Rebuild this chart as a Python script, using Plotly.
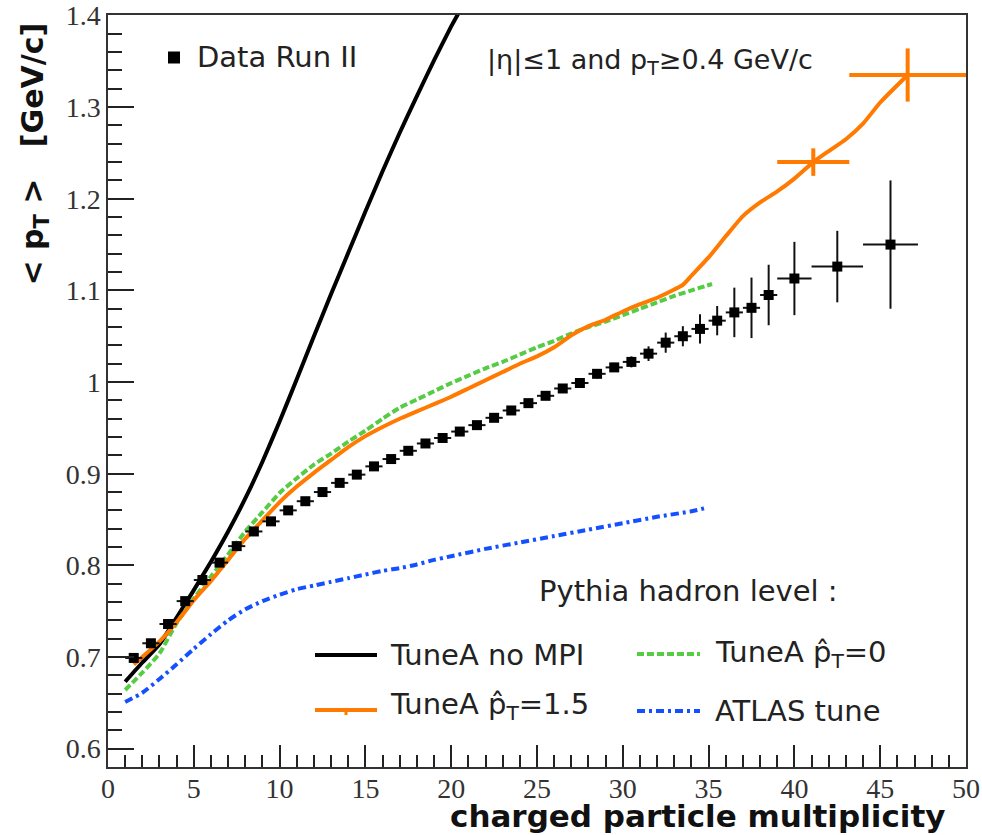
import plotly.graph_objects as go

# ---------------- data ----------------
data_x = [1.5, 2.5, 3.5, 4.5, 5.5, 6.5, 7.5, 8.5, 9.5, 10.5, 11.5, 12.5, 13.5, 14.5,
          15.5, 16.5, 17.5, 18.5, 19.5, 20.5, 21.5, 22.5, 23.5, 24.5, 25.5, 26.5,
          27.5, 28.5, 29.5, 30.5, 31.5, 32.5, 33.5, 34.5, 35.5, 36.5, 37.5, 38.5,
          40.0, 42.5, 45.6]
data_y = [0.699, 0.715, 0.736, 0.761, 0.784, 0.803, 0.821, 0.837, 0.848, 0.860,
          0.870, 0.880, 0.890, 0.899, 0.908, 0.916, 0.925, 0.933, 0.939, 0.946,
          0.953, 0.961, 0.969, 0.977, 0.985, 0.993, 0.999, 1.009, 1.016, 1.022,
          1.031, 1.043, 1.050, 1.058, 1.067, 1.076, 1.081, 1.095, 1.113, 1.126, 1.150]
data_xerr = [0.5] * 38 + [1.0, 1.5, 1.6]
data_yerr = [0.003] * 25 + [0.004, 0.004, 0.005, 0.005, 0.006, 0.008, 0.011,
                            0.011, 0.016, 0.016, 0.027, 0.033, 0.033, 0.040, 0.039, 0.070]

nompi_x = [1, 2, 3, 4, 5, 6, 7, 8, 9, 10, 11, 12, 13, 14, 15, 16, 17, 18, 19, 20, 20.5]
nompi_y = [0.673, 0.694, 0.714, 0.743, 0.773, 0.804, 0.837, 0.873, 0.913, 0.957,
           1.003, 1.050, 1.096, 1.141, 1.186, 1.230, 1.272, 1.312, 1.351, 1.388, 1.405]

tuneA15_x = [1.5, 2, 3, 4, 5, 6, 7, 8, 9, 10, 11, 12, 13, 14, 15, 16, 17, 18, 19, 20,
             21, 22, 23, 24, 25, 26, 27, 28, 29, 30, 31, 32, 33, 33.5, 34, 35, 36, 37,
             38, 39, 40, 41.1, 42, 43, 44, 45, 46.6]
tuneA15_y = [0.692, 0.700, 0.717, 0.738, 0.762, 0.783, 0.806, 0.829, 0.849, 0.869,
             0.886, 0.901, 0.915, 0.929, 0.941, 0.951, 0.960, 0.968, 0.976, 0.984,
             0.993, 1.002, 1.011, 1.020, 1.028, 1.038, 1.051, 1.061, 1.068, 1.077,
             1.085, 1.092, 1.101, 1.106, 1.116, 1.136, 1.159, 1.181, 1.196, 1.208,
             1.222, 1.240, 1.252, 1.265, 1.282, 1.305, 1.335]
tuneA15_err_x = [41.1, 46.6]
tuneA15_err_y = [1.240, 1.335]
tuneA15_err_dx = [2.1, 3.4]
tuneA15_err_dy = [0.015, 0.029]

tuneA0_x = [1, 2, 3, 4, 5, 6, 7, 8, 9, 10, 11, 12, 13, 14, 15, 16, 17, 18, 19, 20,
            21, 22, 23, 24, 25, 26, 27, 28, 29, 30, 31, 32, 33, 34, 35.2]
tuneA0_y = [0.664, 0.683, 0.704, 0.737, 0.764, 0.788, 0.812, 0.837, 0.858, 0.879,
            0.895, 0.910, 0.922, 0.935, 0.947, 0.960, 0.972, 0.981, 0.990, 0.999,
            1.007, 1.015, 1.022, 1.030, 1.038, 1.045, 1.053, 1.060, 1.066, 1.073,
            1.080, 1.087, 1.094, 1.100, 1.107]

atlas_x = [1, 2, 3, 4, 5, 6, 7, 8, 9, 10, 11, 12, 13, 14, 15, 16, 17, 18, 19, 20,
           22, 24, 26, 28, 30, 32, 34, 34.9]
atlas_y = [0.651, 0.661, 0.676, 0.692, 0.709, 0.725, 0.740, 0.752, 0.761, 0.768,
           0.774, 0.778, 0.782, 0.786, 0.790, 0.794, 0.797, 0.801, 0.806, 0.810,
           0.818, 0.825, 0.832, 0.839, 0.846, 0.853, 0.859, 0.863]

x_tickvals = [0, 5, 10, 15, 20, 25, 30, 35, 40, 45, 50]
x_ticktext = ["0", "5", "10", "15", "20", "25", "30", "35", "40", "45", "50"]
y_tickvals = [0.6, 0.7, 0.8, 0.9, 1.0, 1.1, 1.2, 1.3, 1.4]
y_ticktext = ["0.6", "0.7", "0.8", "0.9", "1", "1.1", "1.2", "1.3", "1.4"]

legend_labels = ["TuneA no MPI", "TuneA p\u0302<sub>T</sub>=1.5",
                 "TuneA p\u0302<sub>T</sub>=0", "ATLAS tune"]

# ---------------- styles ----------------
BLACK = "#000000"
ORANGE = "#FF7A00"
GREEN = "#55CC44"
BLUE = "#1450FF"
SANS = "DejaVu Sans, Liberation Sans, Arial, sans-serif"
SERIF = "Liberation Serif, Times New Roman, serif"
TXT = 29

W, H = 982, 835
L, R, T, B = 108, 966, 15, 767


def px(xp):
    return (xp - L) / (R - L)


def py(yp):
    return (B - yp) / (B - T)


fig = go.Figure()

fig.add_trace(go.Scatter(x=nompi_x, y=nompi_y, mode="lines",
                         line=dict(color=BLACK, width=4, shape="spline", smoothing=0.5),
                         name=legend_labels[0]))
fig.add_trace(go.Scatter(x=tuneA0_x, y=tuneA0_y, mode="lines",
                         line=dict(color=GREEN, width=4, dash="7px,3px", shape="spline", smoothing=0.6),
                         name=legend_labels[2]))
fig.add_trace(go.Scatter(x=atlas_x, y=atlas_y, mode="lines",
                         line=dict(color=BLUE, width=4, dash="8px,4px,3px,4px", shape="spline", smoothing=0.6),
                         name=legend_labels[3]))
fig.add_trace(go.Scatter(x=tuneA15_x, y=tuneA15_y, mode="lines",
                         line=dict(color=ORANGE, width=4, shape="spline", smoothing=0.5),
                         name=legend_labels[1]))
fig.add_trace(go.Scatter(x=tuneA15_err_x, y=tuneA15_err_y, mode="markers",
                         marker=dict(size=1, color=ORANGE, opacity=0),
                         error_x=dict(type="data", array=tuneA15_err_dx, color=ORANGE, thickness=4, width=0),
                         error_y=dict(type="data", array=tuneA15_err_dy, color=ORANGE, thickness=4, width=0),
                         showlegend=False))
fig.add_trace(go.Scatter(x=data_x, y=data_y, mode="markers",
                         marker=dict(symbol="square", size=10, color=BLACK),
                         error_x=dict(type="data", array=data_xerr, color="#111", thickness=2, width=0),
                         error_y=dict(type="data", array=data_yerr, color="#111", thickness=2, width=0),
                         name="Data Run II"))

shapes = []
annotations = []

# Data Run II marker + text
shapes.append(dict(type="rect", xref="paper", yref="paper",
                   x0=px(168), x1=px(180), y0=py(63.5), y1=py(51.5),
                   fillcolor=BLACK, line=dict(width=0)))
annotations.append(dict(text="Data Run II", x=px(195), y=py(57.5), xref="paper", yref="paper",
                        xanchor="left", yanchor="middle", showarrow=False,
                        font=dict(family=SANS, size=TXT, color="#222")))
annotations.append(dict(text="|\u03b7|\u22641 and p<sub>T</sub>\u22650.4 GeV/c", x=px(485), y=py(42),
                        xref="paper", yref="paper", xanchor="left", yanchor="top", showarrow=False,
                        font=dict(family=SANS, size=27, color="#222")))
annotations.append(dict(text="Pythia hadron level :", x=px(537), y=py(591), xref="paper", yref="paper",
                        xanchor="left", yanchor="middle", showarrow=False,
                        font=dict(family=SANS, size=TXT, color="#222")))

# legend samples
shapes.append(dict(type="line", xref="paper", yref="paper", x0=px(315), x1=px(377), y0=py(655), y1=py(655),
                   line=dict(color=BLACK, width=4)))
shapes.append(dict(type="line", xref="paper", yref="paper", x0=px(315), x1=px(377), y0=py(710), y1=py(710),
                   line=dict(color=ORANGE, width=4)))
shapes.append(dict(type="line", xref="paper", yref="paper", x0=px(346), x1=px(346), y0=py(710), y1=py(715),
                   line=dict(color=ORANGE, width=3)))
shapes.append(dict(type="line", xref="paper", yref="paper", x0=px(637), x1=px(700), y0=py(654), y1=py(654),
                   line=dict(color=GREEN, width=4, dash="7px,3px")))
shapes.append(dict(type="line", xref="paper", yref="paper", x0=px(637), x1=px(700), y0=py(711), y1=py(711),
                   line=dict(color=BLUE, width=4, dash="8px,4px,3px,4px")))

leg_pos = [(388, 655, "middle"), (388, 685, "top"), (713, 633, "top"), (713, 711, "middle")]
for lab, (lx, ly, anc) in zip(legend_labels, leg_pos):
    annotations.append(dict(text=lab, x=px(lx), y=py(ly), xref="paper", yref="paper",
                            xanchor="left", yanchor=anc, showarrow=False,
                            font=dict(family=SANS, size=TXT, color="#222")))

# axis titles
annotations.append(dict(text="<b>charged particle multiplicity</b>", x=px(947), y=py(816),
                        xref="paper", yref="paper", xanchor="right", yanchor="middle", showarrow=False,
                        font=dict(family=SANS, size=31, color="#111")))
annotations.append(dict(text="<b>&lt; p<sub>T</sub> &gt;   [GeV/c]</b>", x=px(34), y=py(21),
                        xref="paper", yref="paper", xanchor="center", yanchor="top", showarrow=False,
                        textangle=-90, font=dict(family=SANS, size=30, color="#111")))

fig.update_layout(
    width=W, height=H,
    margin=dict(l=L, r=W - R, t=T, b=H - B, autoexpand=False),
    paper_bgcolor="white", plot_bgcolor="white",
    showlegend=False,
    shapes=shapes, annotations=annotations,
)
fig.update_xaxes(range=[0, 50], showgrid=False, zeroline=False, automargin=False,
                 showline=True, linecolor="#333", linewidth=1.5, mirror=True,
                 ticks="inside", ticklen=22, tickwidth=1.5, tickcolor="#222",
                 tickvals=x_tickvals, ticktext=x_ticktext, ticklabelstandoff=-4,
                 tickfont=dict(family=SERIF, size=28, color="#333"),
                 minor=dict(dtick=1, ticks="inside", ticklen=12, tickwidth=1.5, tickcolor="#222", showgrid=False))
fig.update_yaxes(range=[0.58, 1.4005], showgrid=False, zeroline=False, automargin=False,
                 showline=True, linecolor="#333", linewidth=1.5, mirror=True,
                 ticks="inside", ticklen=26, tickwidth=1.5, tickcolor="#222",
                 tickvals=y_tickvals, ticktext=y_ticktext,
                 tickfont=dict(family=SERIF, size=28, color="#333"),
                 minor=dict(dtick=0.02, tick0=0.6, ticks="inside", ticklen=14, tickwidth=1.5, tickcolor="#222", showgrid=False))

fig.write_html("out.html")
